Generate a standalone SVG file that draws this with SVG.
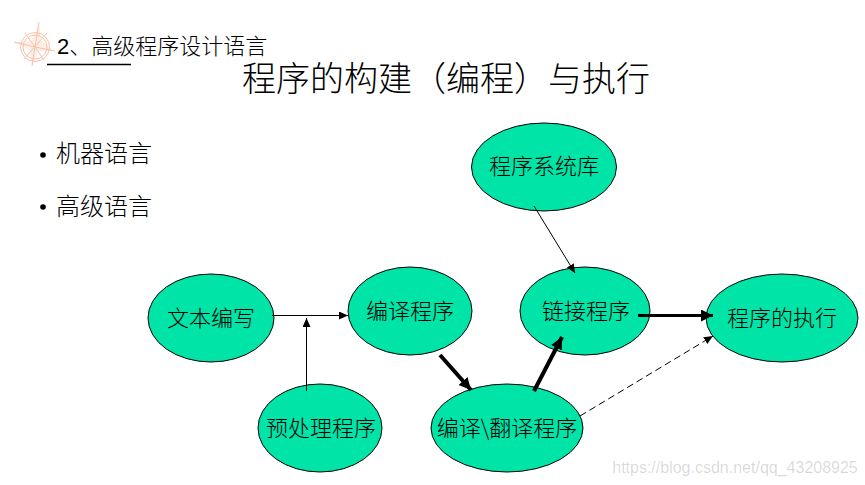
<svg xmlns="http://www.w3.org/2000/svg" width="865" height="485" viewBox="0 0 865 485">
<style>
text{font-family:"Liberation Sans","Noto Sans CJK SC",sans-serif;fill:#000}
.n{fill:#00e4a8;stroke:#000;stroke-width:1}
.t{font-size:22px;text-anchor:middle;font-family:"Noto Sans CJK SC",sans-serif;font-weight:300}
.z{font-family:"Noto Sans CJK SC",sans-serif;font-weight:300}
.c{stroke:#000;fill:none}
.o{stroke:#f6c3aa;fill:none;stroke-width:1}
</style>
<defs>
<marker id="a" markerUnits="userSpaceOnUse" markerWidth="10" markerHeight="10" refX="9" refY="4" orient="auto"><path d="M0 0L9 4L0 8Z" fill="#000"/></marker>
<marker id="b" markerUnits="userSpaceOnUse" markerWidth="14" markerHeight="14" refX="12" refY="6" orient="auto"><path d="M0 0L12 6L0 12Z" fill="#000"/></marker>
</defs>
<g id="logo">
<circle class="o" cx="35" cy="47" r="14.500"/><circle class="o" cx="35" cy="47" r="12"/>
<path d="M39 24L41 40L54 51L38 51L32 65L30 50L15 42L31 41Z" fill="#f6c3aa" fill-opacity=".3"/>
<path class="o" stroke-width=".7" d="M39 22L35 47M14 42L35 47M32 66L35 47M55 51L35 47M25 33L44 60M47 33L24 59"/>
</g>
<g id="heading">
<text x="57" y="54" font-size="22">2<tspan class="z" font-size="22">、高级程序设计语言</tspan></text>
<line x1="47" y1="64.500" x2="131" y2="64.500" stroke="#000" stroke-width="1.300"/>
<text class="z" x="446" y="91" font-size="34" text-anchor="middle">程序的构建（编程）与执行</text>
</g>
<g id="bullets" font-size="24">
<circle cx="43" cy="155" r="2.800"/><text class="z" x="56" y="162">机器语言</text>
<circle cx="43" cy="207" r="2.800"/><text class="z" x="56" y="215">高级语言</text>
</g>
<g id="n1"><ellipse class="n" cx="211" cy="318" rx="63" ry="44"/><text class="t" x="211" y="326">文本编写</text></g>
<g id="n2"><ellipse class="n" cx="410" cy="311" rx="62" ry="44"/><text class="t" x="410" y="319">编译程序</text></g>
<g id="n3"><ellipse class="n" cx="320" cy="428" rx="62" ry="44"/><text class="t" x="321" y="436">预处理程序</text></g>
<g id="n4"><ellipse class="n" cx="507" cy="428" rx="76" ry="44"/><text class="t" x="507" y="436">编译\翻译程序</text></g>
<g id="n5"><ellipse class="n" cx="585" cy="311" rx="65" ry="44"/><text class="t" x="586" y="319">链接程序</text></g>
<g id="n6"><ellipse class="n" cx="782" cy="318" rx="76" ry="44"/><text class="t" x="782" y="326">程序的执行</text></g>
<g id="n7"><ellipse class="n" cx="544" cy="167" rx="72.500" ry="44"/><text class="t" x="544" y="174">程序系统库</text></g>
<g id="connectors">
<line class="c" x1="272" y1="315.500" x2="348" y2="315.500" marker-end="url(#a)"/>
<line class="c" x1="306.500" y1="391" x2="306.500" y2="318" marker-end="url(#a)"/>
<line class="c" x1="534" y1="206" x2="575" y2="273" marker-end="url(#a)"/>
<line class="c" stroke-width="4" x1="440" y1="355" x2="471" y2="390" marker-end="url(#b)"/>
<line class="c" stroke-width="4" x1="534" y1="391" x2="562" y2="337" marker-end="url(#b)"/>
<line class="c" stroke-width="3" x1="638" y1="315.500" x2="713" y2="315.500" marker-end="url(#b)"/>
<line class="c" stroke-dasharray="7 4" x1="580" y1="416" x2="713" y2="336" marker-end="url(#a)"/>
</g>
<text x="735" y="473" font-size="16" text-anchor="middle" fill-opacity=".16" id="watermark">https://blog.csdn.net/qq_43208925</text>
</svg>
